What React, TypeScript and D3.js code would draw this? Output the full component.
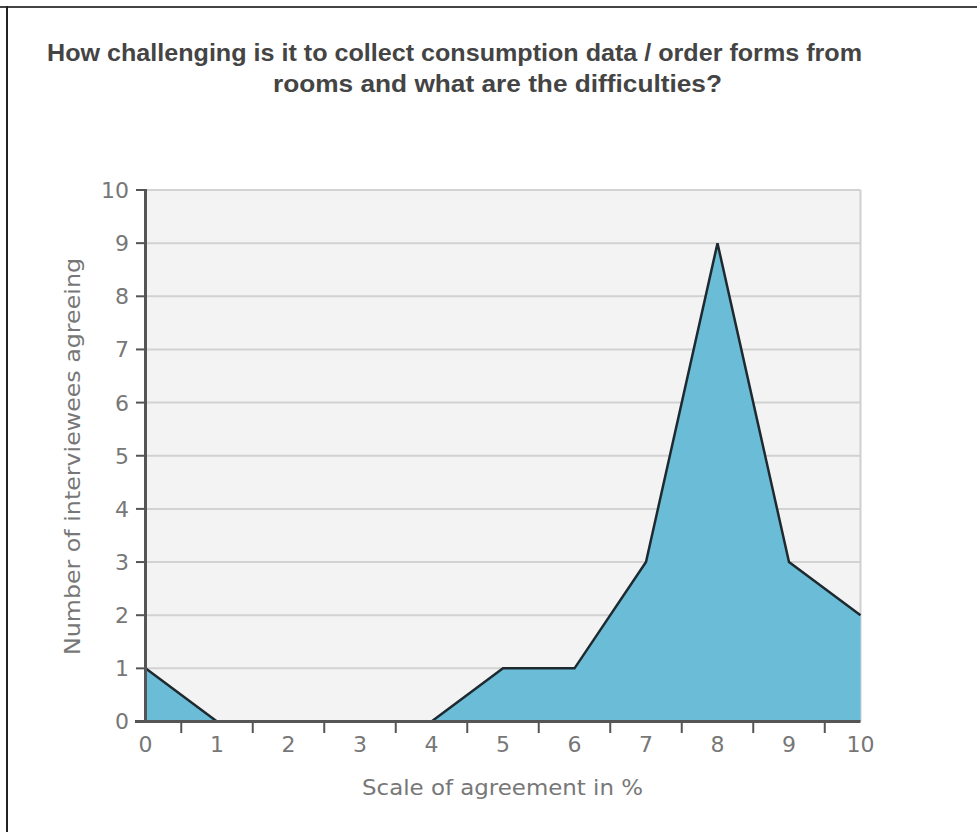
import React from "react";
import * as d3 from "d3";

const scalePoints: number[] = [0, 1, 2, 3, 4, 5, 6, 7, 8, 9, 10];
const agreeing: number[] = [1, 0, 0, 0, 0, 1, 1, 3, 9, 3, 2];
const yTicks: number[] = [0, 1, 2, 3, 4, 5, 6, 7, 8, 9, 10];
const xMinorTicks: number[] = [0.5, 1.5, 2.5, 3.5, 4.5, 5.5, 6.5, 7.5, 8.5, 9.5];
const titleLines: string[] = [
  "How challenging is it to collect consumption data / order forms from",
  "rooms  and what are the difficulties?",
];
const xTitle = "Scale of agreement in %";
const yTitle = "Number of interviewees agreeing";

export default function App() {
  const W = 977, H = 832;
  const left = 145.5, right = 860.5, top = 190, bottom = 721.5;
  const x = d3.scaleLinear().domain([0, 10]).range([left, right]);
  const y = d3.scaleLinear().domain([0, 10]).range([bottom, top]);
  const data = scalePoints.map((s, i) => ({ s, v: agreeing[i] }));
  const area = d3.area<{ s: number; v: number }>().x(d => x(d.s)).y0(y(0)).y1(d => y(d.v));
  const line = d3.line<{ s: number; v: number }>().x(d => x(d.s)).y(d => y(d.v));
  const labelFont = "'DejaVu Sans', sans-serif";
  const gray = "#777";
  return (
    <div style={{ position: "absolute", left: 0, top: 0 }}>
      <svg width={W} height={H} style={{ display: "block", background: "#fff" }}>
        <line x1={0} x2={W} y1={7} y2={7} stroke="#444" strokeWidth={2} />
        <line x1={7} x2={7} y1={6} y2={H} stroke="#222" strokeWidth={2} />
        <g fontFamily="'Liberation Sans', Arial, sans-serif" fontWeight="bold" fontSize={23} fill="#444">
          <text x={47} y={61} textLength={815} lengthAdjust="spacingAndGlyphs">{titleLines[0]}</text>
          <text x={273} y={92} textLength={449} lengthAdjust="spacingAndGlyphs">{titleLines[1]}</text>
        </g>
        <rect x={left} y={top} width={right - left} height={bottom - top} fill="#f3f3f3" />
        {yTicks.filter(t => t > 0).map(t => (
          <line key={"g" + t} x1={left} x2={right} y1={y(t)} y2={y(t)} stroke="#d2d2d2" strokeWidth={2} />
        ))}
        <line x1={right} x2={right} y1={top} y2={bottom} stroke="#cfcfcf" strokeWidth={2} />
        <path d={area(data) || ""} fill="#6bbcd6" />
        <path d={line(data) || ""} fill="none" stroke="#1e2a30" strokeWidth={2.5} strokeLinejoin="miter" />
        <line x1={left} x2={left} y1={top - 1} y2={bottom} stroke="#555" strokeWidth={3} />
        <line x1={135} x2={right} y1={bottom} y2={bottom} stroke="#555" strokeWidth={3} />
        {yTicks.map(t => (
          <line key={"yt" + t} x1={136} x2={left} y1={y(t)} y2={y(t)} stroke="#555" strokeWidth={2} />
        ))}
        {xMinorTicks.map(t => (
          <line key={"xt" + t} x1={x(t)} x2={x(t)} y1={bottom} y2={733} stroke="#555" strokeWidth={2} />
        ))}
        <g fontFamily={labelFont} fontSize={22} fill={gray}>
          {yTicks.map(t => (
            <text key={"yl" + t} x={129} y={y(t)} dy="0.36em" textAnchor="end">{t}</text>
          ))}
          {scalePoints.map(t => (
            <text key={"xl" + t} x={x(t)} y={752} textAnchor="middle">{t}</text>
          ))}
          <text x={362} y={795} fontSize={21} textLength={281} lengthAdjust="spacingAndGlyphs">{xTitle}</text>
          <text transform={`translate(80,655) rotate(-90)`} fontSize={21} textLength={397} lengthAdjust="spacingAndGlyphs">{yTitle}</text>
        </g>
      </svg>
    </div>
  );
}
